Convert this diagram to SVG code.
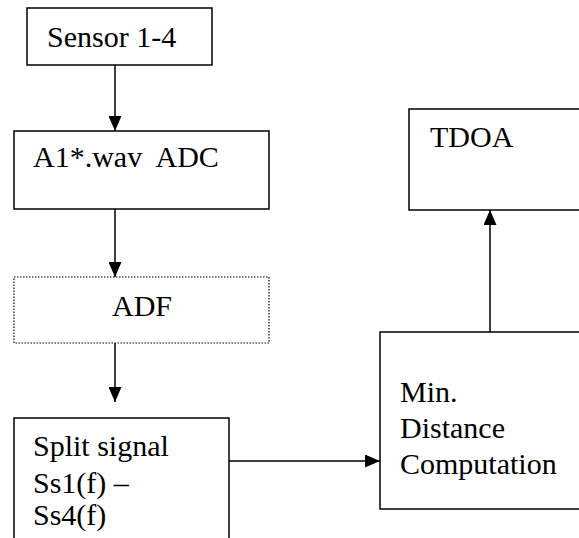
<svg xmlns="http://www.w3.org/2000/svg" width="579" height="538" viewBox="0 0 579 538">
<style>
.box{fill:#fff;stroke:#000;stroke-width:1.5}
.dot{fill:#fff;stroke:#000;stroke-width:1.2;stroke-dasharray:1.5 1.5}
.t{font-size:30px;fill:#000}
.c{stroke:#000;stroke-width:1.5;fill:none;marker-end:url(#ah)}
</style>
<defs>
<marker id="ah" viewBox="0 0 15 13" refX="15" refY="6.5" markerWidth="15" markerHeight="13" markerUnits="userSpaceOnUse" orient="auto">
<path d="M0,0 L15,6.5 L0,13 Z" fill="#000"/>
</marker>
</defs>
<g font-family="Liberation Serif, serif">
<g id="sensor"><rect class="box" x="27" y="8" width="185" height="57"/><text class="t" x="47" y="47">Sensor 1-4</text></g>
<g id="adc"><rect class="box" x="14" y="131" width="255" height="78"/><text class="t" x="33" y="167" xml:space="preserve">A1*.wav  ADC</text></g>
<g id="adf"><rect class="dot" x="14" y="277" width="255" height="66"/><text class="t" x="112" y="316">ADF</text></g>
<g id="split"><rect class="box" x="14" y="418" width="215" height="130"/><text class="t" x="33" y="456">Split signal</text><text class="t" x="33" y="493">Ss1(f) –</text><text class="t" x="33" y="525">Ss4(f)</text></g>
<g id="tdoa"><rect class="box" x="409" y="109" width="180" height="101"/><text class="t" x="430" y="147">TDOA</text></g>
<g id="mindist"><rect class="box" x="380" y="332" width="210" height="177"/><text class="t" x="400" y="402">Min.</text><text class="t" x="400" y="438">Distance</text><text class="t" x="400" y="474">Computation</text></g>
</g>
<g id="connectors">
<path class="c" d="M115,65 V131"/>
<path class="c" d="M115,209 V277"/>
<path class="c" d="M115,343 V402"/>
<path class="c" d="M229,461 H380"/>
<path class="c" d="M490,332 V210"/>
</g>
</svg>
